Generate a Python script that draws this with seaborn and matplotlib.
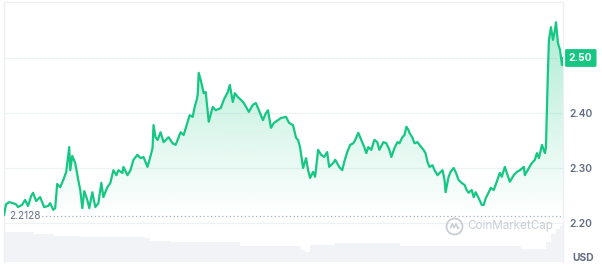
import numpy as np
import pandas as pd
import matplotlib
matplotlib.use("Agg")
import matplotlib.pyplot as plt
import matplotlib.transforms as mtransforms
from matplotlib.path import Path
import seaborn as sns

# ---------------- data ----------------
# elapsed time steps over the 24h window
time_steps = [0, 2, 5, 9, 12, 14, 18, 21, 24, 27, 29, 32, 36, 40, 44, 46, 49, 51, 53, 56,
              59, 62, 65, 66, 68, 71, 74, 76, 78, 80, 83, 85, 88, 91, 94, 97, 99, 103, 106, 109,
              112, 114, 118, 119, 123, 126, 129, 133, 136, 139, 143, 145, 148, 149, 151, 153, 156, 159, 164, 168,
              171, 173, 176, 179, 183, 185, 188, 190, 192, 193, 194, 196, 199, 201, 204, 208, 211, 216, 219, 223,
              225, 228, 230, 233, 236, 239, 244, 248, 251, 254, 258, 261, 263, 266, 269, 273, 276, 281, 284, 288,
              291, 293, 295, 298, 301, 303, 305, 308, 310, 313, 316, 319, 322, 324, 328, 330, 334, 337, 339, 342,
              345, 348, 350, 353, 356, 359, 361, 363, 366, 369, 372, 374, 378, 381, 384, 386, 389, 392, 394, 397,
              399, 401, 403, 404, 407, 409, 412, 414, 418, 420, 422, 424, 427, 429, 432, 434, 437, 439, 440, 443,
              445, 448, 450, 453, 456, 459, 461, 463, 466, 468, 470, 473, 476, 478, 480, 483, 485, 488, 491, 494,
              496, 499, 501, 504, 508, 511, 514, 518, 519, 523, 526, 529, 531, 533, 536, 539, 540, 542, 543, 545,
              547, 549, 550, 552, 554, 556, 557]
price = [2.214, 2.234, 2.238, 2.236, 2.234, 2.229, 2.233, 2.242, 2.231, 2.249, 2.255, 2.240, 2.247, 2.229, 2.231, 2.236, 2.224, 2.227, 2.271, 2.265,
         2.278, 2.293, 2.338, 2.296, 2.322, 2.309, 2.278, 2.260, 2.227, 2.258, 2.242, 2.227, 2.256, 2.229, 2.236, 2.273, 2.247, 2.265, 2.273, 2.296,
         2.287, 2.296, 2.291, 2.302, 2.287, 2.296, 2.315, 2.324, 2.318, 2.320, 2.302, 2.315, 2.336, 2.378, 2.356, 2.351, 2.365, 2.347, 2.356, 2.345,
         2.342, 2.351, 2.365, 2.360, 2.384, 2.396, 2.393, 2.411, 2.424, 2.433, 2.473, 2.460, 2.436, 2.438, 2.384, 2.411, 2.405, 2.409, 2.424, 2.438,
         2.451, 2.420, 2.436, 2.429, 2.424, 2.418, 2.402, 2.415, 2.418, 2.405, 2.387, 2.400, 2.405, 2.373, 2.382, 2.387, 2.391, 2.393, 2.382, 2.378,
         2.355, 2.351, 2.338, 2.300, 2.318, 2.296, 2.282, 2.293, 2.284, 2.333, 2.324, 2.320, 2.329, 2.302, 2.309, 2.315, 2.302, 2.296, 2.311, 2.329,
         2.342, 2.345, 2.351, 2.364, 2.351, 2.338, 2.327, 2.338, 2.333, 2.351, 2.347, 2.333, 2.347, 2.345, 2.333, 2.320, 2.336, 2.347, 2.345, 2.356,
         2.360, 2.375, 2.369, 2.364, 2.355, 2.345, 2.347, 2.342, 2.333, 2.327, 2.311, 2.302, 2.305, 2.296, 2.287, 2.291, 2.296, 2.278, 2.256, 2.284,
         2.293, 2.300, 2.293, 2.278, 2.273, 2.269, 2.260, 2.255, 2.260, 2.247, 2.256, 2.245, 2.233, 2.233, 2.245, 2.256, 2.264, 2.260, 2.275, 2.291,
         2.284, 2.302, 2.291, 2.275, 2.287, 2.293, 2.296, 2.302, 2.287, 2.300, 2.309, 2.315, 2.327, 2.318, 2.342, 2.327, 2.338, 2.478, 2.533, 2.556,
         2.533, 2.551, 2.565, 2.527, 2.515, 2.487, 2.500]

open_price = 2.2128
price_ticks = [2.20, 2.30, 2.40, 2.50]
tick_labels = ["2.20", "2.30", "2.40", ""]
last_label = "2.50"
currency = "USD"
watermark = "CoinMarketCap"

# volume (millions USD)
vol_steps = [0, 12, 30, 46, 50, 75, 140, 145, 165, 195, 230, 235, 275, 296, 300, 305, 330, 380, 395, 440,
             480, 515, 536, 540, 545, 550, 554, 557]
volume = [150, 148, 142, 140, 128, 125, 122, 106, 98, 100, 98, 82, 80, 62, 52, 85, 95, 95, 82, 80,
          78, 66, 66, 100, 140, 165, 178, 185]

df = pd.DataFrame({"t": time_steps, "price": price})
vdf = pd.DataFrame({"t": vol_steps, "volume": volume})

# ---------------- style ----------------
sns.set_theme(style="white")
plt.rcParams["font.family"] = ["Inter", "DejaVu Sans"]

GREEN = "#16c784"
GRAY_TXT = "#616e85"
GRID = "#eff2f5"

W, H = 602, 267
fig = plt.figure(figsize=(W / 100, H / 100), dpi=100)
ax_l, ax_r, ax_t, ax_b = 4, 563, 2, 262
ax = fig.add_axes([ax_l / W, (H - ax_b) / H, (ax_r - ax_l) / W, (ax_b - ax_t) / H])

y_lo, y_hi = 2.1291, 2.6018
x_lo, x_hi = 0, 557

# volume axis behind
axv = ax.twinx()
axv.set_ylim(0, 1300)
axv.fill_between(vdf["t"], vdf["volume"], 0, step="post", color="#f1f3f6", lw=0)
axv.set_yticks([])
for s in axv.spines.values():
    s.set_visible(False)
ax.set_zorder(axv.get_zorder() + 1)
ax.patch.set_visible(False)

ax.set_xlim(x_lo, x_hi)
ax.set_ylim(y_lo, y_hi)

# grid lines
for yv in price_ticks:
    ax.axhline(yv, color=GRID, lw=0.9, zorder=0)

# gradient fill under the line down to open price
poly = ax.fill_between(df["t"], df["price"], open_price, color="none", lw=0)
grad = np.zeros((256, 2, 4))
rgb = matplotlib.colors.to_rgb(GREEN)
grad[..., 0], grad[..., 1], grad[..., 2] = rgb
alphas = np.linspace(0.34, 0.0, 256)
grad[..., 3] = alphas[:, None]
im = ax.imshow(grad, extent=[x_lo, x_hi, open_price, max(price)], aspect="auto",
               origin="upper", zorder=1)
clip_path = poly.get_paths()[0]
im.set_clip_path(clip_path, transform=ax.transData)
ax.set_xlim(x_lo, x_hi)
ax.set_ylim(y_lo, y_hi)

# price line
sns.lineplot(data=df, x="t", y="price", ax=ax, color=GREEN, lw=1.6, zorder=3)

# open-price dotted baseline + label
ax.axhline(open_price, xmin=0.061, xmax=1.0, color="#a6b0c3", lw=0.9,
           ls=(0, (1, 2)), zorder=2)
blend = mtransforms.blended_transform_factory(ax.transAxes, ax.transData)
ax.text(0.009, open_price, f"{open_price:.4f}", transform=blend, ha="left", va="center",
        fontsize=7.2, color=GRAY_TXT, zorder=4,
        bbox=dict(boxstyle="square,pad=0.15", fc="white", ec="none"))

# right axis ticks
ax.yaxis.tick_right()
ax.set_yticks(price_ticks)
ax.set_yticklabels(tick_labels)
ax.tick_params(axis="y", length=0, pad=4.5, labelsize=7.4, labelcolor=GRAY_TXT)
for lbl in ax.get_yticklabels():
    lbl.set_fontweight("semibold")
ax.set_xticks([])
ax.set_xlabel("")
ax.set_ylabel("")

# last price tag
ax.text(1.0107, price[-1], last_label, transform=blend, ha="left", va="center",
        fontsize=7.4, color="white", fontweight="bold", zorder=5, clip_on=False,
        bbox=dict(boxstyle="round,pad=0.38,rounding_size=0.15", fc=GREEN, ec="none"))

# currency
fig.text(572 / W, (H - 258) / H, currency, ha="left", va="center", fontsize=7.4,
         color=GRAY_TXT, fontweight="bold")

# watermark
wm_col = "#c9ced6"
ax.plot([0.805], [0.138], transform=ax.transAxes, marker="o", ms=11.5, mfc="none",
        mec=wm_col, mew=1.3, zorder=2, clip_on=False)
mpath = Path([(-0.55, -0.25), (-0.3, 0.35), (-0.05, -0.15), (0.2, 0.35), (0.45, -0.25), (0.6, -0.05)])
ax.plot([0.805], [0.138], transform=ax.transAxes, marker=mpath, ms=6.5, mfc="none",
        mec=wm_col, mew=1.2, zorder=2, clip_on=False)
ax.text(0.829, 0.138, watermark, transform=ax.transAxes, ha="left", va="center",
        fontsize=8.4, color=wm_col, zorder=2)

# spines
for side in ["top", "left", "right"]:
    ax.spines[side].set_visible(True)
    ax.spines[side].set_color("#eceff3")
    ax.spines[side].set_linewidth(0.9)
ax.spines["bottom"].set_visible(False)

fig.savefig("out.png", dpi=100)
